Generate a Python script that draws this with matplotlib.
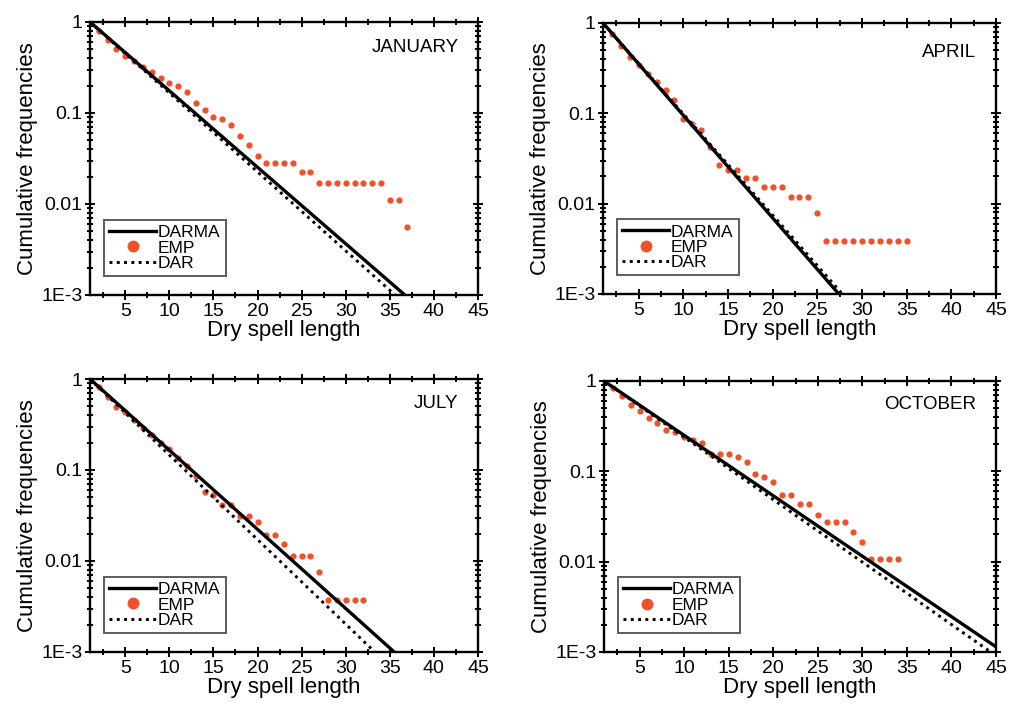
import matplotlib.pyplot as plt
import matplotlib.ticker as mticker

plt.rcParams["font.family"] = ["Liberation Sans", "DejaVu Sans"]

"""

Data (read off the reference figure)

"""

months = ["JANUARY", "APRIL", "JULY", "OCTOBER"]

# Empirical cumulative frequencies (EMP)
jan_emp_x = list(range(1, 38))
jan_emp_y = [1.0, 0.80, 0.63, 0.50, 0.42, 0.37, 0.32, 0.28, 0.24, 0.215,
             0.197, 0.171, 0.129, 0.107, 0.091, 0.086, 0.074, 0.056, 0.0445, 0.034,
             0.0282, 0.0282, 0.0282, 0.0282, 0.0224, 0.0224,
             0.0171, 0.0171, 0.0171, 0.0171, 0.0171, 0.0171, 0.0171, 0.0171,
             0.0111, 0.0111, 0.00565]

apr_emp_x = list(range(1, 36))
apr_emp_y = [1.0, 0.75, 0.55, 0.42, 0.34, 0.27, 0.22, 0.183, 0.14, 0.0875,
             0.077, 0.066, 0.0425, 0.027, 0.0235, 0.0235, 0.0193, 0.0193,
             0.0154, 0.0154, 0.0154, 0.0117, 0.0117, 0.0117, 0.0078,
             0.0039, 0.0039, 0.0039, 0.0039, 0.0039, 0.0039, 0.0039, 0.0039,
             0.0039, 0.0039]

jul_emp_x = list(range(1, 33))
jul_emp_y = [1.0, 0.82, 0.64, 0.49, 0.43, 0.35, 0.29, 0.24, 0.197, 0.17,
             0.135, 0.111, 0.085, 0.058, 0.053, 0.041, 0.041, 0.031, 0.031,
             0.027, 0.0193, 0.0193, 0.0153, 0.0114, 0.0114, 0.0114, 0.0076,
             0.00377, 0.00377, 0.00377, 0.00377, 0.00377]

oct_emp_x = list(range(1, 35))
oct_emp_y = [1.0, 0.84, 0.68, 0.54, 0.46, 0.39, 0.34, 0.29, 0.27, 0.237,
             0.223, 0.204, 0.155, 0.155, 0.155, 0.145, 0.126, 0.093, 0.087,
             0.077, 0.055, 0.055, 0.0435, 0.0435, 0.033, 0.0273, 0.0273,
             0.0273, 0.0215, 0.0164, 0.0107, 0.0107, 0.0107, 0.0107]

# Model curves are straight lines on the log axis: start and end points
jan_darma_x, jan_darma_y = [1, 36.7], [1.0, 0.001]
jan_dar_x, jan_dar_y = [1, 35.6], [1.0, 0.001]
apr_darma_x, apr_darma_y = [1, 27.4], [1.0, 0.001]
apr_dar_x, apr_dar_y = [1, 27.8], [1.0, 0.001]
jul_darma_x, jul_darma_y = [1, 35.5], [1.0, 0.001]
jul_dar_x, jul_dar_y = [1, 33.3], [1.0, 0.001]
oct_darma_x, oct_darma_y = [1, 45], [1.0, 0.00114]
oct_dar_x, oct_dar_y = [1, 44.4], [1.0, 0.001]

y_ticks = [1e-3, 1e-2, 1e-1, 1]
y_tick_labels = ["1E-3", "0.01", "0.1", "1"]
x_ticks = [5, 10, 15, 20, 25, 30, 35, 40, 45]

emp_color = "#f0502a"

"""

Figure

"""

fig = plt.figure(figsize=(10.09, 7.05), dpi=100)
fig.patch.set_facecolor("white")

# axes boxes in figure fractions [left, bottom, width, height]
positions = [
    [0.0892, 0.5816, 0.3845, 0.3872],
    [0.5976, 0.5830, 0.3895, 0.3844],
    [0.0892, 0.0752, 0.3845, 0.3872],
    [0.5986, 0.0752, 0.3885, 0.3844],
]

panels = [
    (jan_emp_x, jan_emp_y, jan_darma_x, jan_darma_y, jan_dar_x, jan_dar_y),
    (apr_emp_x, apr_emp_y, apr_darma_x, apr_darma_y, apr_dar_x, apr_dar_y),
    (jul_emp_x, jul_emp_y, jul_darma_x, jul_darma_y, jul_dar_x, jul_dar_y),
    (oct_emp_x, oct_emp_y, oct_darma_x, oct_darma_y, oct_dar_x, oct_dar_y),
]

month_y = [0.905, 0.89, 0.91, 0.912]

for pos, month, my, (ex, ey, mx, myv, dx, dy) in zip(positions, months, month_y, panels):
    ax = fig.add_axes(pos)
    ax.set_yscale("log")
    ax.set_xlim(1, 45)
    ax.set_ylim(1e-3, 1)

    ax.plot(mx, myv, color="black", linewidth=2.4, label="DARMA", zorder=3)
    ax.plot(ex, ey, linestyle="none", marker="o", markersize=4.5,
            color=emp_color, markeredgewidth=0, label="EMP", zorder=2)
    ax.plot(dx, dy, color="black", linewidth=2.1, linestyle=(0, (1, 1.5)),
            label="DAR", zorder=3)

    ax.set_xticks(x_ticks)
    ax.xaxis.set_minor_locator(mticker.MultipleLocator(2.5))
    ax.set_yticks(y_ticks)
    ax.set_yticklabels(y_tick_labels)
    ax.yaxis.set_minor_locator(mticker.LogLocator(base=10, subs=range(2, 10)))
    ax.yaxis.set_minor_formatter(mticker.NullFormatter())

    ax.tick_params(which="both", top=True, right=True, width=1.4,
                   labelsize=14, direction="inout", pad=2)
    ax.tick_params(which="major", length=7)
    ax.tick_params(which="minor", length=4)
    for side in ax.spines.values():
        side.set_linewidth(1.7)

    ax.set_xlabel("Dry spell length", fontsize=16, labelpad=0)
    ax.set_ylabel("Cumulative frequencies", fontsize=16, labelpad=2)

    ax.text(0.95, my, month, transform=ax.transAxes, ha="right", va="center",
            fontsize=13.5)

    leg = ax.legend(loc="lower left", bbox_to_anchor=(0.036, 0.07),
                    borderaxespad=0, fontsize=12.5, frameon=True, fancybox=False,
                    handlelength=2.7, handletextpad=0.1, labelspacing=0.0,
                    borderpad=0.3, markerscale=1.9)
    leg.get_frame().set_edgecolor("#333333")
    leg.get_frame().set_linewidth(1.4)

fig.savefig("out.png", dpi=100)
